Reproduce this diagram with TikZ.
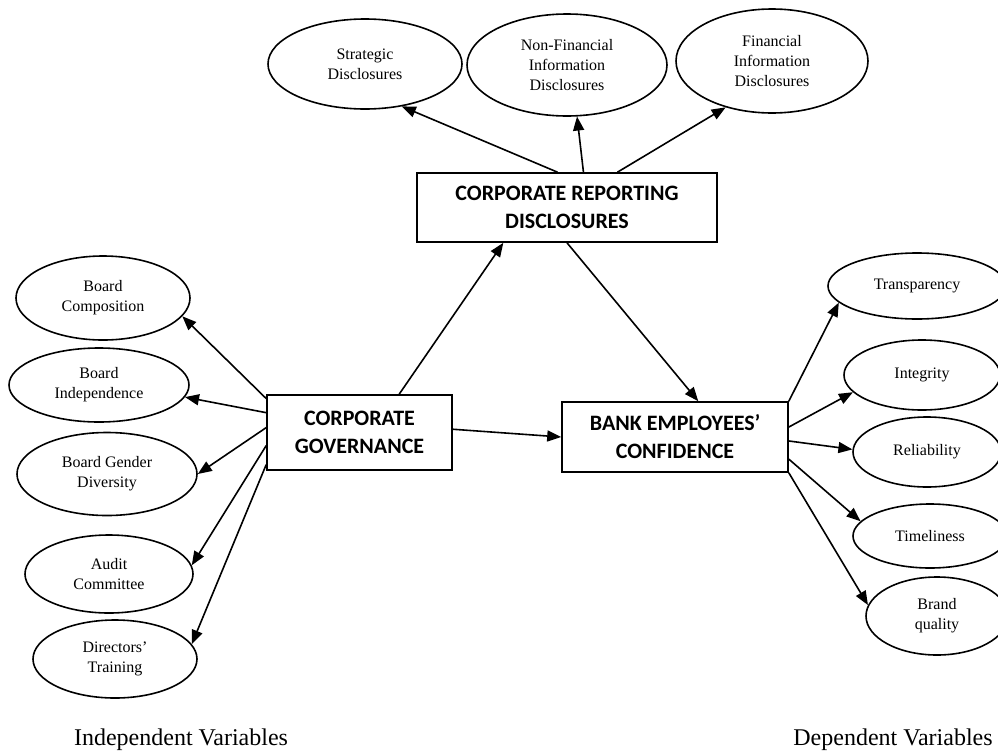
\documentclass[tikz,border=0pt]{standalone}
\usepackage{fontspec}
\setmainfont{Liberation Serif}
\newfontfamily\boxfont{Carlito}
\usetikzlibrary{shapes.geometric,arrows.meta}

\begin{document}
\begin{tikzpicture}[x=1pt, y=-1pt, line width=1.6pt]
            \tikzstyle{factor}=[ellipse, draw, inner sep=0pt, align=center, font=\fontsize{16}{20}\selectfont]
            \tikzstyle{construct}=[rectangle, draw, inner sep=0pt, align=center, font=\boxfont\bfseries\fontsize{22}{28}\selectfont]
            \tikzstyle{link}=[-{Triangle[length=14pt, width=11pt]}]
            \tikzstyle{side}=[font=\fontsize{24}{28}\selectfont, anchor=base]
            \useasboundingbox (0,0) rectangle (998,750);

            % disclosures
            \node[factor, minimum width=194pt, minimum height=90pt] (strat) at (365,64) {Strategic\\Disclosures};
            \node[factor, minimum width=200pt, minimum height=102pt] (nonfin) at (567,65) {Non-Financial\\Information\\Disclosures};
            \node[factor, minimum width=192pt, minimum height=104pt] (fin) at (772,61) {Financial\\Information\\Disclosures};
            \node[construct, minimum width=300pt, minimum height=69pt] (crd) at (567,207.5) {CORPORATE REPORTING\\DISCLOSURES};

            % governance
            \node[factor, minimum width=174pt, minimum height=84pt] (bcomp) at (103,298) {Board\\Composition};
            \node[factor, minimum width=180pt, minimum height=74pt] (bind) at (99,385) {Board\\Independence};
            \node[factor, minimum width=180pt, minimum height=83pt] (bgd) at (107,474) {Board Gender\\Diversity};
            \node[factor, minimum width=168pt, minimum height=78pt] (audit) at (109,574) {Audit\\Committee};
            \node[factor, minimum width=164pt, minimum height=78pt] (dtrain) at (115,659) {Directors’\\Training};
            \node[construct, minimum width=185pt, minimum height=75pt] (cg) at (359.5,432.5) {CORPORATE\\GOVERNANCE};

            % confidence
            \node[construct, minimum width=226pt, minimum height=70pt] (bec) at (675,437) {BANK EMPLOYEES’\\CONFIDENCE};
            \node[factor, minimum width=178pt, minimum height=66pt] (transp) at (917,286) {Transparency};
            \node[factor, minimum width=156pt, minimum height=70pt] (integ) at (922,375) {Integrity};
            \node[factor, minimum width=148pt, minimum height=70pt] (rel) at (927,452) {Reliability};
            \node[factor, minimum width=154pt, minimum height=64pt] (time) at (930,536) {Timeliness};
            \node[factor, minimum width=142pt, minimum height=78pt] (brand) at (937,616) {Brand\\quality};

            \node[side] (indep) at (181,745) {Independent Variables};
            \node[side] (dep) at (893,745) {Dependent Variables};

            % arrows
            \draw[link] (crd.105) -- (strat.-49);
            \draw[link] (crd.65) -- (nonfin.-79);
            \draw[link] (crd.35) -- (fin.-135);
            \draw[link] (cg.44) -- (crd.-151);
            \draw[link] (crd.south) -- (bec.57);
            \draw[link] (cg.2) -- (bec.west);
            \draw[link] (cg.160) -- (bcomp.-13);
            \draw[link] (cg.168) -- (bind.-8);
            \draw[link] (cg.177) -- (bgd.east);
            \draw[link] (cg.-172) -- (audit.6);
            \draw[link] (cg.-161) -- (dtrain.11);
            \draw[link] (bec.north east) -- (transp.-168);
            \draw[link] (bec.5) -- (integ.-166);
            \draw[link] (bec.-2) -- (rel.178);
            \draw[link] (bec.-11) -- (time.168);
            \draw[link] (bec.south east) -- (brand.171);
        \end{tikzpicture}
\end{document}
